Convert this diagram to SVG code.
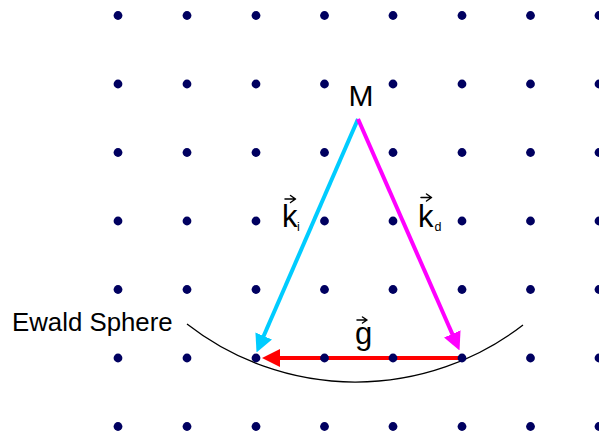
<svg xmlns="http://www.w3.org/2000/svg" width="599" height="436" viewBox="0 0 599 436">
<style>
  .dot { fill: #000060; }
  .lbl { font-family: "Liberation Sans", Arial, sans-serif; fill: #000; }
  .vec { fill: none; stroke: #000; stroke-width: 1.5; stroke-linecap: round; stroke-linejoin: round; }
  .arrow { fill: none; stroke-width: 4; }
</style>
<defs>
  <marker id="ahCyan" markerUnits="userSpaceOnUse" markerWidth="18" markerHeight="18" refX="8" refY="9" orient="auto">
    <path d="M0,0 L18,9 L0,18 z" fill="#00ccff"/>
  </marker>
  <marker id="ahMag" markerUnits="userSpaceOnUse" markerWidth="18" markerHeight="18" refX="8" refY="9" orient="auto">
    <path d="M0,0 L18,9 L0,18 z" fill="#ff00ff"/>
  </marker>
  <marker id="ahRed" markerUnits="userSpaceOnUse" markerWidth="18" markerHeight="18" refX="8" refY="9" orient="auto">
    <path d="M0,0 L18,9 L0,18 z" fill="#ff0000"/>
  </marker>
  <circle id="d" r="4.4" class="dot"/>
</defs>
<rect width="599" height="436" fill="#fff"/>

<g id="ewald-sphere">
  <path d="M187,324 A274,274 0 0,0 523,325" fill="none" stroke="#000" stroke-width="1.3"/>
  <text class="lbl" x="12" y="331" font-size="25.8">Ewald Sphere</text>
</g>

<g id="connectors">
  <line class="arrow" x1="358" y1="119" x2="260.5" y2="343.3" stroke="#00ccff" marker-end="url(#ahCyan)"/>
  <line class="arrow" x1="358" y1="119" x2="455.5" y2="341.3" stroke="#ff00ff" marker-end="url(#ahMag)"/>
  <line class="arrow" x1="459" y1="358" x2="272" y2="358" stroke="#ff0000" marker-end="url(#ahRed)"/>
</g>

<g id="lattice">
  <use href="#d" x="118" y="15.5"/><use href="#d" x="187" y="15.5"/><use href="#d" x="256" y="15.5"/><use href="#d" x="324.5" y="15.5"/><use href="#d" x="393" y="15.5"/><use href="#d" x="462" y="15.5"/><use href="#d" x="530.5" y="15.5"/><use href="#d" x="599" y="15.5"/>
  <use href="#d" x="118" y="84"/><use href="#d" x="187" y="84"/><use href="#d" x="256" y="84"/><use href="#d" x="324.5" y="84"/><use href="#d" x="393" y="84"/><use href="#d" x="462" y="84"/><use href="#d" x="530.5" y="84"/><use href="#d" x="599" y="84"/>
  <use href="#d" x="118" y="152.5"/><use href="#d" x="187" y="152.5"/><use href="#d" x="256" y="152.5"/><use href="#d" x="324.5" y="152.5"/><use href="#d" x="393" y="152.5"/><use href="#d" x="462" y="152.5"/><use href="#d" x="530.5" y="152.5"/><use href="#d" x="599" y="152.5"/>
  <use href="#d" x="118" y="221"/><use href="#d" x="187" y="221"/><use href="#d" x="256" y="221"/><use href="#d" x="324.5" y="221"/><use href="#d" x="393" y="221"/><use href="#d" x="462" y="221"/><use href="#d" x="530.5" y="221"/><use href="#d" x="599" y="221"/>
  <use href="#d" x="118" y="289.5"/><use href="#d" x="187" y="289.5"/><use href="#d" x="256" y="289.5"/><use href="#d" x="324.5" y="289.5"/><use href="#d" x="393" y="289.5"/><use href="#d" x="462" y="289.5"/><use href="#d" x="530.5" y="289.5"/><use href="#d" x="599" y="289.5"/>
  <use href="#d" x="118" y="358"/><use href="#d" x="187" y="358"/><use href="#d" x="256" y="358"/><use href="#d" x="324.5" y="358"/><use href="#d" x="393" y="358"/><use href="#d" x="462" y="358"/><use href="#d" x="530.5" y="358"/><use href="#d" x="599" y="358"/>
  <use href="#d" x="118" y="426.5"/><use href="#d" x="187" y="426.5"/><use href="#d" x="256" y="426.5"/><use href="#d" x="324.5" y="426.5"/><use href="#d" x="393" y="426.5"/><use href="#d" x="462" y="426.5"/><use href="#d" x="530.5" y="426.5"/><use href="#d" x="599" y="426.5"/>
</g>

<g id="M">
  <text class="lbl" x="361" y="105.5" font-size="30" text-anchor="middle">M</text>
</g>

<g id="k_i">
  <text class="lbl" x="282" y="227" font-size="31">k</text>
  <text class="lbl" x="297" y="231" font-size="12.5">i</text>
  <path class="vec" d="M285,199 H295.5 M290.5,195.5 L295.5,199 L290.5,202.5"/>
</g>

<g id="k_d">
  <text class="lbl" x="418" y="227" font-size="31">k</text>
  <text class="lbl" x="434.5" y="231" font-size="12.5">d</text>
  <path class="vec" d="M421,197.5 H431.5 M426.5,194 L431.5,197.5 L426.5,201"/>
</g>

<g id="g">
  <text class="lbl" x="355" y="344" font-size="31">g</text>
  <path class="vec" d="M357,320 H367 M362.5,317 L367,320 L362.5,323"/>
</g>
</svg>
